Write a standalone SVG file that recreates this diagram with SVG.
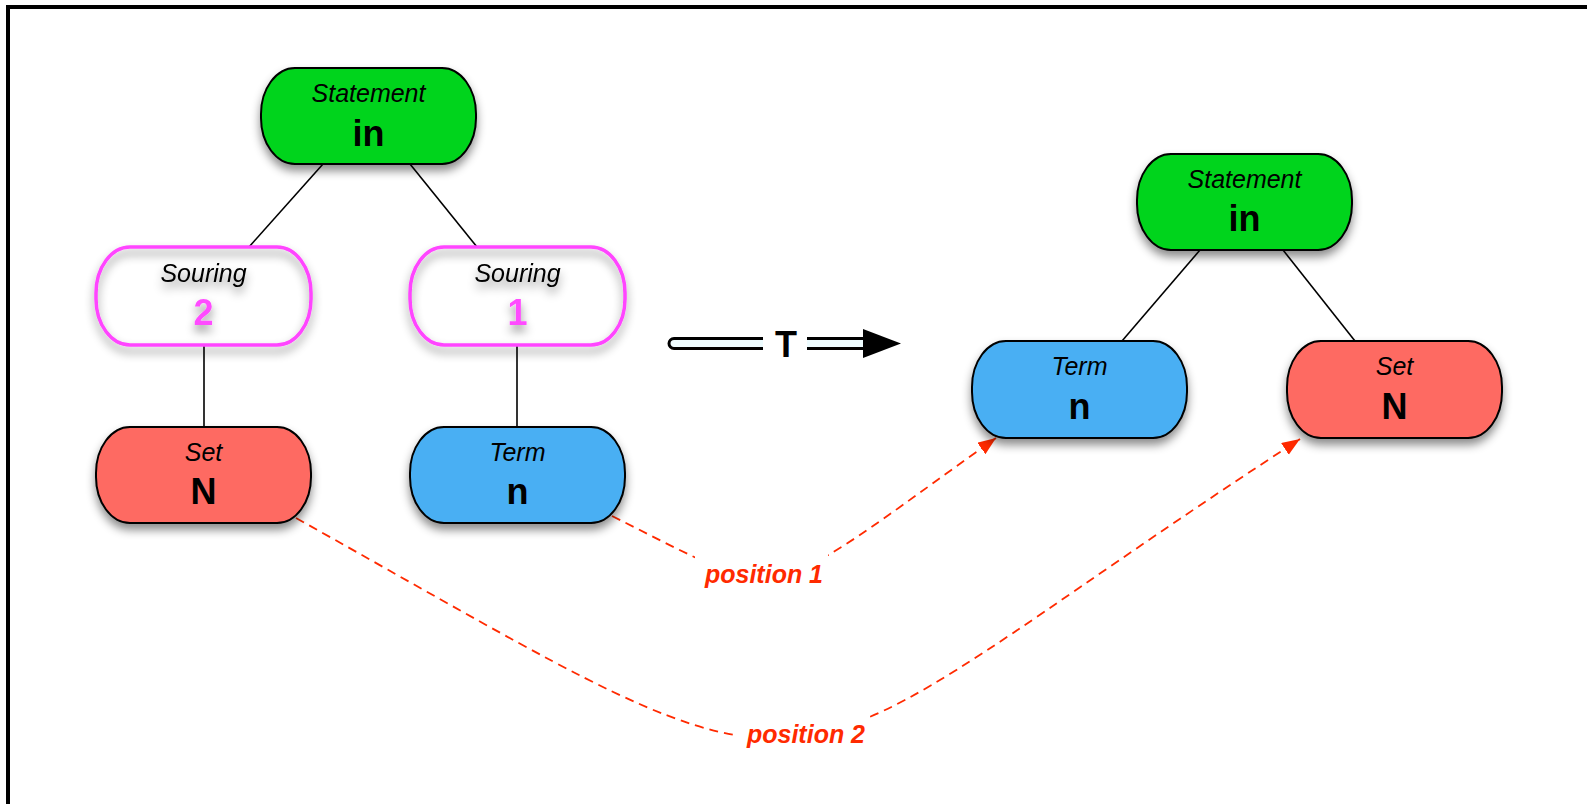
<svg xmlns="http://www.w3.org/2000/svg" width="1587" height="804" viewBox="0 0 1587 804">
<style>
.box{stroke:#000;stroke-width:2}
.green{fill:#00d41c}
.blue{fill:#49aff3}
.red{fill:#fe6a62}
.sour{fill:none;stroke:#ff44ff;stroke-width:3.5}
.kind{font-family:"Liberation Sans",Arial,sans-serif;font-style:italic;font-size:25px;fill:#000;text-anchor:middle}
.val{font-family:"Liberation Sans",Arial,sans-serif;font-weight:bold;font-size:36px;fill:#000;text-anchor:middle}
.pink{fill:#ff4cff}
.edge{stroke:#000;stroke-width:1.6;fill:none}
.dash{stroke:#ff2a00;stroke-width:1.8;fill:none;stroke-dasharray:9 6}
.plabel{font-family:"Liberation Sans",Arial,sans-serif;font-weight:bold;font-style:italic;font-size:25px;fill:#ff2a00;text-anchor:middle}
</style>
<defs>
<filter id="sh" x="-20%" y="-20%" width="140%" height="160%">
<feDropShadow dx="0" dy="6" stdDeviation="5" flood-color="#000" flood-opacity="0.45"/>
</filter>
<marker id="rarrow" markerUnits="userSpaceOnUse" markerWidth="19" markerHeight="15" refX="18" refY="7" orient="auto">
<path d="M0,0 L18,7 L0,14 z" fill="#ff2a00"/>
</marker>
</defs>
<rect x="0" y="0" width="1587" height="804" fill="#fff"/>
<rect x="8" y="7" width="1620" height="840" fill="none" stroke="#000" stroke-width="4"/>

<g id="connectors">
<line class="edge" x1="323" y1="164" x2="249" y2="247"/>
<line class="edge" x1="410" y1="164" x2="477" y2="247"/>
<line class="edge" x1="204" y1="345" x2="204" y2="427"/>
<line class="edge" x1="517" y1="345" x2="517" y2="427"/>
<line class="edge" x1="1200" y1="250" x2="1122" y2="341"/>
<line class="edge" x1="1283" y1="250" x2="1355" y2="341"/>
<path class="dash" d="M612,516 C792,606 757,608 996,438" marker-end="url(#rarrow)"/>
<path class="dash" d="M296,518 C868,838 733,808 1300,439" marker-end="url(#rarrow)"/>
<g id="transform-arrow">
<path d="M763,338.5 L674,338.5 A5,5 0 0 0 674,348.5 L763,348.5 Z" fill="#eefcff" stroke="none"/>
<path d="M763,338.5 L674,338.5 A5,5 0 0 0 674,348.5 L763,348.5" fill="none" stroke="#000" stroke-width="3"/>
<rect x="807" y="338.5" width="58" height="10" fill="#eefcff"/>
<path d="M807,338.5 L865,338.5 M807,348.5 L865,348.5" stroke="#000" stroke-width="3"/>
<polygon points="863,329 901,343.5 863,358" fill="#000"/>
<text x="786" y="357" class="val">T</text>
</g>
<g id="label-position1">
<rect x="695" y="540" width="133" height="48" fill="#fff"/>
<text x="764" y="583" class="plabel">position 1</text>
</g>
<g id="label-position2">
<rect x="736" y="705" width="134" height="50" fill="#fff"/>
<text x="806" y="743" class="plabel">position 2</text>
</g>
</g>

<g id="statement-left">
<rect class="box green" x="261" y="68" width="215" height="96" rx="34" ry="46" filter="url(#sh)"/>
<text x="368.5" y="102" class="kind">Statement</text>
<text x="368.5" y="146" class="val">in</text>
</g>
<g id="souring-2" filter="url(#sh)">
<rect class="sour" x="96" y="247" width="215" height="98" rx="34" ry="46"/>
<text x="203.5" y="282" class="kind">Souring</text>
<text x="203.5" y="325" class="val pink">2</text>
</g>
<g id="souring-1" filter="url(#sh)">
<rect class="sour" x="410" y="247" width="215" height="98" rx="34" ry="46"/>
<text x="517.5" y="282" class="kind">Souring</text>
<text x="517.5" y="325" class="val pink">1</text>
</g>
<g id="set-left">
<rect class="box red" x="96" y="427" width="215" height="96" rx="34" ry="46" filter="url(#sh)"/>
<text x="203.5" y="461" class="kind">Set</text>
<text x="203.5" y="504" class="val">N</text>
</g>
<g id="term-left">
<rect class="box blue" x="410" y="427" width="215" height="96" rx="34" ry="46" filter="url(#sh)"/>
<text x="517.5" y="461" class="kind">Term</text>
<text x="517.5" y="504" class="val">n</text>
</g>
<g id="statement-right">
<rect class="box green" x="1137" y="154" width="215" height="96" rx="34" ry="46" filter="url(#sh)"/>
<text x="1244.5" y="188" class="kind">Statement</text>
<text x="1244.5" y="231" class="val">in</text>
</g>
<g id="term-right">
<rect class="box blue" x="972" y="341" width="215" height="97" rx="34" ry="46" filter="url(#sh)"/>
<text x="1079.5" y="375" class="kind">Term</text>
<text x="1079.5" y="419" class="val">n</text>
</g>
<g id="set-right">
<rect class="box red" x="1287" y="341" width="215" height="97" rx="34" ry="46" filter="url(#sh)"/>
<text x="1394.5" y="375" class="kind">Set</text>
<text x="1394.5" y="419" class="val">N</text>
</g>
</svg>
